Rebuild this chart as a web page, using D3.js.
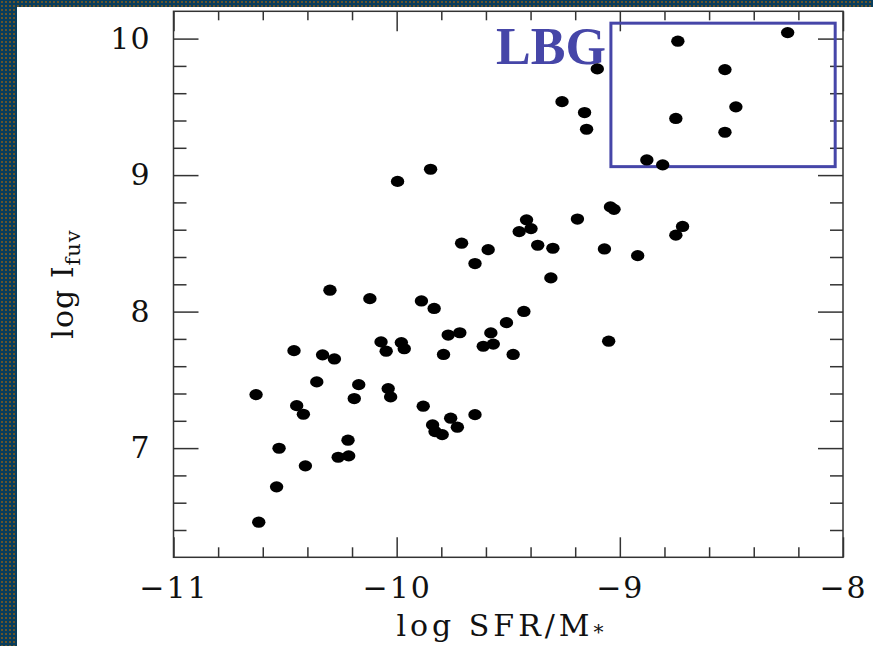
<!DOCTYPE html>
<html>
<head>
<meta charset="utf-8">
<script src="https://cdn.jsdelivr.net/npm/d3@7"></script>
<style>
  body { margin: 0; background: #ffffff; }
  svg { display: block; }
</style>
</head>
<body>
<div id="chart"><svg></svg></div>
<script>
// galaxies: log SFR/M* and log I_fuv
const logSSFR = [
  -9.101, -9.259, -9.158, -9.149, -8.740, -8.248, -8.529, -8.480, -8.749, -8.529,
  -8.879, -8.808, -9.848, -9.996, -9.042, -9.026, -9.190, -9.418, -9.398, -9.451,
  -8.719, -8.749, -9.709, -9.590, -9.368, -9.300, -9.069, -8.920, -9.649, -9.309,
  -10.299, -10.120, -9.889, -9.832, -9.430, -9.508, -9.578, -9.717, -9.769, -9.612,
  -9.567, -9.790, -9.478, -9.050, -10.460, -10.332, -10.279, -10.070, -10.047, -9.979,
  -9.966, -10.358, -10.170, -10.190, -10.038, -10.027, -10.630, -10.448, -10.418, -9.881,
  -9.839, -9.828, -9.796, -9.758, -9.728, -9.649, -10.527, -10.218, -10.262, -10.215,
  -10.409, -10.538, -10.618
];
const logIfuv = [
  9.778, 9.538, 9.458, 9.336, 9.981, 10.044, 9.773, 9.500, 9.415, 9.314,
  9.111, 9.075, 9.043, 8.954, 8.767, 8.749, 8.678, 8.672, 8.608, 8.586,
  8.624, 8.560, 8.501, 8.454, 8.486, 8.464, 8.459, 8.410, 8.352, 8.247,
  8.157, 8.095, 8.078, 8.023, 8.001, 7.919, 7.844, 7.845, 7.828, 7.746,
  7.762, 7.686, 7.686, 7.783, 7.714, 7.683, 7.653, 7.778, 7.710, 7.773,
  7.728, 7.485, 7.465, 7.363, 7.436, 7.375, 7.392, 7.311, 7.248, 7.307,
  7.170, 7.121, 7.099, 7.219, 7.153, 7.245, 6.999, 7.058, 6.933, 6.943,
  6.870, 6.716, 6.457
];

// axis ticks
const xMajorTicks = [-11, -10, -9, -8];
const yMajorTicks = [7, 8, 9, 10];
const xMinorTicks = d3.range(-10.8, -8, 0.2).filter(v => Math.abs(v - Math.round(v)) > 0.01);
const yMinorTicks = d3.range(6.4, 10.2, 0.2).filter(v => Math.abs(v - Math.round(v)) > 0.01);

// the LBG region box
const lbgX = [-9.04, -8.035];
const lbgY = [9.062, 10.113];

const W = 873;
const H = 646;
const svg = d3.select("#chart svg")
  .attr("width", W)
  .attr("height", H);

// dotted blue slide background along the left and top edges
const pat = svg.append("defs").append("pattern")
  .attr("id", "dots")
  .attr("patternUnits", "userSpaceOnUse")
  .attr("width", 4)
  .attr("height", 4);
pat.append("rect").attr("width", 4).attr("height", 4).attr("fill", "#083d5c");
pat.append("rect").attr("x", 1).attr("y", 1).attr("width", 2).attr("height", 2).attr("fill", "#66542a");

svg.append("rect").attr("width", W).attr("height", H).attr("fill", "url(#dots)");
svg.append("rect").attr("x", 17).attr("y", 7).attr("width", W - 17).attr("height", H - 7).attr("fill", "#ffffff");

const x = d3.scaleLinear().domain([-11, -8]).range([173.5, 843]);
const y = d3.scaleLinear().domain([6.2, 10.2]).range([557.3, 11.3]);

const axisColor = "#333";
const font = "'DejaVu Serif', serif";

// ticks on all four sides, pointing inward
function drawTicks(axis, transform) {
  const g = svg.append("g").attr("transform", transform).call(axis);
  g.select(".domain").remove();
  g.selectAll(".tick line").attr("stroke", axisColor).attr("stroke-width", 1.5);
  return g;
}

const xb = y(6.2), xt = y(10.2), yl = x(-11), yr = x(-8);

drawTicks(d3.axisBottom(x).tickValues(xMinorTicks).tickSize(-10).tickFormat(""), `translate(0,${xb})`);
const bottom = drawTicks(d3.axisBottom(x).tickValues(xMajorTicks).tickSize(-20).tickPadding(19)
  .tickFormat(d3.format("d")), `translate(0,${xb})`);
bottom.selectAll(".tick text")
  .attr("font-family", font).attr("font-size", 30).attr("fill", "#111")
  .attr("letter-spacing", 2);

drawTicks(d3.axisTop(x).tickValues(xMinorTicks).tickSize(-9).tickFormat(""), `translate(0,${xt})`);
drawTicks(d3.axisTop(x).tickValues(xMajorTicks).tickSize(-20).tickFormat(""), `translate(0,${xt})`);

drawTicks(d3.axisLeft(y).tickValues(yMinorTicks).tickSize(-13).tickFormat(""), `translate(${yl},0)`);
const left = drawTicks(d3.axisLeft(y).tickValues(yMajorTicks).tickSize(-25).tickPadding(23)
  .tickFormat(d3.format("d")), `translate(${yl},0)`);
left.selectAll(".tick text")
  .attr("font-family", font).attr("font-size", 30).attr("fill", "#111")
  .attr("letter-spacing", 1);

drawTicks(d3.axisRight(y).tickValues(yMinorTicks).tickSize(-13).tickFormat(""), `translate(${yr},0)`);
drawTicks(d3.axisRight(y).tickValues(yMajorTicks).tickSize(-25).tickFormat(""), `translate(${yr},0)`);

// frame
svg.append("rect")
  .attr("x", yl).attr("y", xt)
  .attr("width", yr - yl).attr("height", xb - xt)
  .attr("fill", "none").attr("stroke", axisColor).attr("stroke-width", 1.5);

// LBG box and label
const lbgColor = "#4646a8";
svg.append("rect")
  .attr("x", x(lbgX[0])).attr("y", y(lbgY[1]))
  .attr("width", x(lbgX[1]) - x(lbgX[0]))
  .attr("height", y(lbgY[0]) - y(lbgY[1]))
  .attr("fill", "none").attr("stroke", lbgColor).attr("stroke-width", 3);

svg.append("text")
  .attr("x", x(lbgX[0]) - 5).attr("y", 64)
  .attr("text-anchor", "end")
  .attr("font-family", "'Liberation Serif', 'Times New Roman', serif")
  .attr("font-weight", "bold").attr("font-size", 52)
  .attr("fill", lbgColor)
  .text("LBG");

// the galaxies
svg.append("g").selectAll("ellipse")
  .data(d3.range(logSSFR.length))
  .join("ellipse")
  .attr("cx", i => x(logSSFR[i]))
  .attr("cy", i => y(logIfuv[i]))
  .attr("rx", 6.7)
  .attr("ry", 5.6)
  .attr("fill", "#000");

// axis titles
const xTitle = svg.append("text")
  .attr("x", 502).attr("y", 636)
  .attr("text-anchor", "middle")
  .attr("font-family", font).attr("font-size", 30)
  .attr("letter-spacing", 4).attr("fill", "#111");
xTitle.append("tspan").text("log SFR/M");
xTitle.append("tspan").attr("font-size", 20).attr("dy", 3).text("*");

const yTitle = svg.append("text")
  .attr("transform", "translate(73,284) rotate(-90)")
  .attr("text-anchor", "middle")
  .attr("font-family", font).attr("font-size", 30)
  .attr("letter-spacing", 1).attr("fill", "#111");
yTitle.append("tspan").text("log I");
yTitle.append("tspan").attr("font-size", 21).attr("dy", 7).text("fuv");
</script>
</body>
</html>
